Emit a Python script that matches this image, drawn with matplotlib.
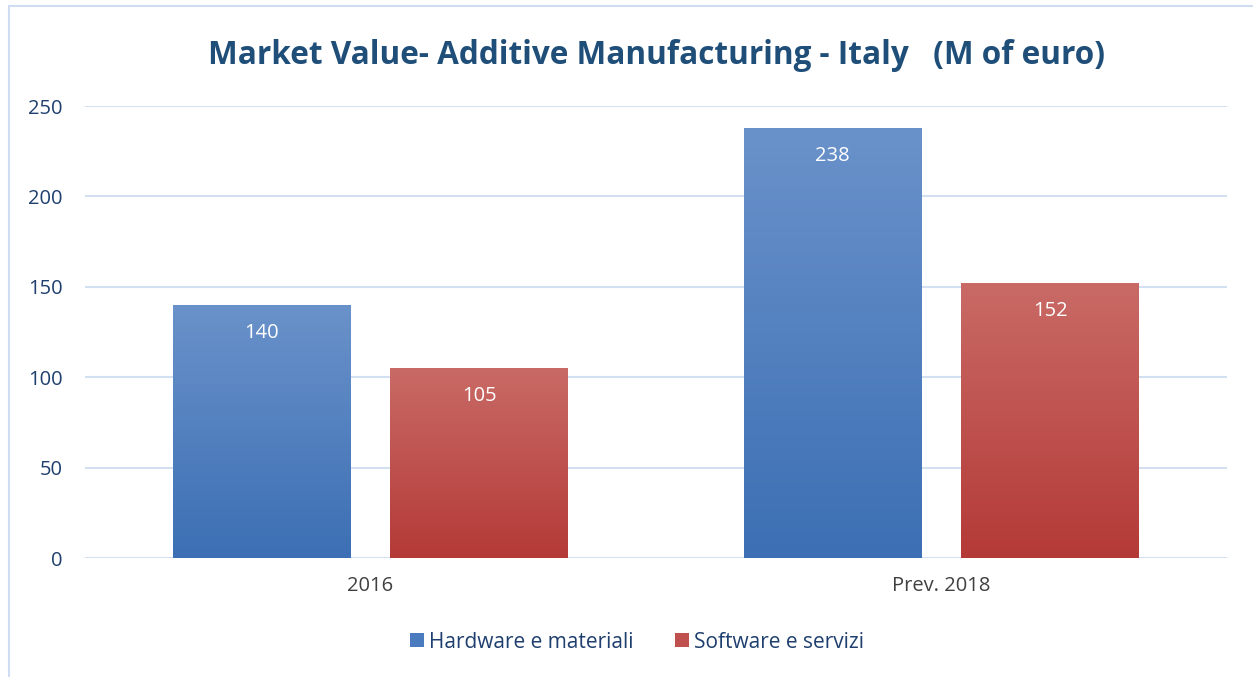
import numpy as np
import matplotlib.pyplot as plt
from matplotlib.patches import Rectangle, Patch
from matplotlib.colors import LinearSegmentedColormap

categories = ["2016", "Prev. 2018"]
series_names = ["Hardware e materiali", "Software e servizi"]
hardware = [140, 238]
software = [105, 152]
yticks = [0, 50, 100, 150, 200, 250]

title = "Market Value- Additive Manufacturing - Italy   (M of euro)"
text_color = "#1f3f6e"
grid_color = "#d3e0f1"
gradients = [("#6a92ca", "#3c6fb4"), ("#c96a66", "#b43a37")]
legend_colors = ["#4a7bbf", "#c0504d"]

plt.rcParams["font.family"] = ["Open Sans", "DejaVu Sans"]

fig = plt.figure(figsize=(12.53, 6.77), dpi=100)
fig.patches.append(Rectangle((9 / 1253, -0.01), 1.1, 1 - 6 / 677 + 0.01,
                             transform=fig.transFigure, fill=False,
                             edgecolor="#d0ddf0", linewidth=1.5))

ax = fig.add_axes([85 / 1253, 1 - 558 / 677, (1227 - 85) / 1253, (558 - 106) / 677])

x = np.arange(len(categories))
width = 0.31
offsets = [-0.191, 0.19]
values = [hardware, software]

for vals, off, (ctop, cbot) in zip(values, offsets, gradients):
    cmap = LinearSegmentedColormap.from_list("g", [cbot, ctop])
    bars = ax.bar(x + off, vals, width, color="none", edgecolor="none", zorder=3)
    for b, v in zip(bars, vals):
        grad = np.linspace(0, 1, 256).reshape(-1, 1)
        im = ax.imshow(grad, cmap=cmap, origin="lower", aspect="auto",
                       extent=(b.get_x(), b.get_x() + b.get_width(), 0, v), zorder=3)
        im.set_clip_path(b)
        ax.text(b.get_x() + b.get_width() / 2, v - 15.5, f"{v}", ha="center", va="center",
                color="white", fontsize=14.5, zorder=4)

ax.set_xlim(-0.5, 1.5)
ax.set_ylim(0, 250)
ax.set_yticks(yticks)
ax.set_yticklabels([str(t) for t in yticks], color=text_color, fontsize=14.5)
ax.set_xticks(x)
ax.set_xticklabels(categories, color="#404040", fontsize=14.5)
ax.tick_params(axis="both", length=0)
ax.tick_params(axis="y", pad=16)
ax.tick_params(axis="x", pad=13)
ax.yaxis.grid(True, color=grid_color, linewidth=1.5, zorder=0)
ax.set_axisbelow(True)
for s in ax.spines.values():
    s.set_visible(False)

fig.text(657 / 1253, 1 - 55 / 677, title, ha="center", va="center",
         fontsize=22.7, fontweight="bold", color="#1f4e79")

handles = [Patch(facecolor=c, edgecolor="none") for c in legend_colors]
fig.legend(handles, series_names, loc="center", bbox_to_anchor=(637 / 1253, 1 - 642 / 677),
           ncol=2, frameon=False, fontsize=15, labelcolor=text_color,
           handlelength=0.65, handleheight=0.65, handletextpad=0.25, columnspacing=2.0)

fig.savefig("out.png", dpi=100, facecolor="white")
